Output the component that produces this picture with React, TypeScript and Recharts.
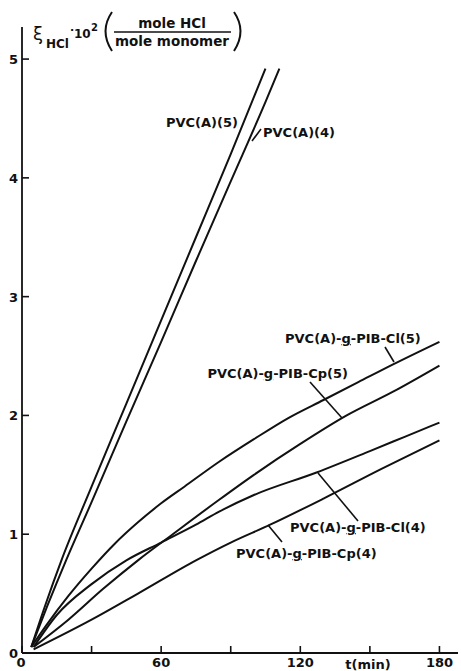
import React from "react";
import { LineChart, Line, XAxis, YAxis } from "recharts";

// time in min, xi_HCl * 10^2
const pvcA5 = [
  { t: 4, v: 0.05 }, { t: 10, v: 0.4 }, { t: 17, v: 0.78 }, { t: 30, v: 1.4 },
  { t: 45, v: 2.1 }, { t: 60, v: 2.8 }, { t: 75, v: 3.5 }, { t: 90, v: 4.2 },
  { t: 105, v: 4.92 },
];
const pvcA4 = [
  { t: 4, v: 0.05 }, { t: 11, v: 0.4 }, { t: 19, v: 0.78 }, { t: 30, v: 1.27 },
  { t: 45, v: 1.95 }, { t: 60, v: 2.62 }, { t: 75, v: 3.3 }, { t: 90, v: 3.97 },
  { t: 105, v: 4.64 }, { t: 111, v: 4.92 },
];
const graftCl5 = [
  { t: 4, v: 0.05 }, { t: 10, v: 0.22 }, { t: 20, v: 0.48 }, { t: 30, v: 0.71 },
  { t: 40, v: 0.92 }, { t: 50, v: 1.1 }, { t: 60, v: 1.26 }, { t: 70, v: 1.4 },
  { t: 85, v: 1.61 }, { t: 100, v: 1.8 }, { t: 115, v: 1.98 }, { t: 130, v: 2.13 },
  { t: 145, v: 2.28 }, { t: 160, v: 2.43 }, { t: 180, v: 2.62 },
];
const graftCp5 = [
  { t: 5, v: 0.05 }, { t: 20, v: 0.28 }, { t: 35, v: 0.54 }, { t: 50, v: 0.78 },
  { t: 65, v: 1.0 }, { t: 85, v: 1.29 }, { t: 100, v: 1.5 }, { t: 120, v: 1.76 },
  { t: 140, v: 2.0 }, { t: 160, v: 2.2 }, { t: 180, v: 2.42 },
];
const graftCl4 = [
  { t: 5, v: 0.05 }, { t: 15, v: 0.32 }, { t: 30, v: 0.58 }, { t: 45, v: 0.78 },
  { t: 60, v: 0.93 }, { t: 75, v: 1.08 }, { t: 85, v: 1.19 }, { t: 100, v: 1.33 },
  { t: 127, v: 1.52 }, { t: 150, v: 1.7 }, { t: 165, v: 1.82 }, { t: 180, v: 1.94 },
];
const graftCp4 = [
  { t: 5, v: 0.03 }, { t: 30, v: 0.28 }, { t: 50, v: 0.5 }, { t: 75, v: 0.78 },
  { t: 90, v: 0.93 }, { t: 107, v: 1.08 }, { t: 130, v: 1.3 }, { t: 155, v: 1.55 },
  { t: 180, v: 1.79 },
];

const xTicks = [0, 30, 60, 90, 120, 150, 180];
const xLabelled = [0, 60, 120, 180];
const yTicks = [0, 1, 2, 3, 4, 5];

const series = [pvcA5, pvcA4, graftCl5, graftCp5, graftCl4, graftCp4];

const font = "'DejaVu Sans', sans-serif";
const ink = "#111";

const YTick = (props: any) => {
  const { x, y, payload } = props;
  return (
    <g>
      <line x1={x} y1={y} x2={x + 7} y2={y} stroke={ink} strokeWidth={1.6} />
      <text x={x - 4} y={y + 5} textAnchor="end" fontFamily={font} fontWeight="bold" fontSize={13} fill={ink}>
        {payload.value}
      </text>
    </g>
  );
};

const XTick = (props: any) => {
  const { x, y, payload } = props;
  const show = xLabelled.includes(payload.value);
  return (
    <g>
      <line x1={x} y1={y} x2={x} y2={y - 7} stroke={ink} strokeWidth={1.6} />
      {show && (
        <text x={payload.value === 0 ? x - 1 : x} y={y + 14} textAnchor="middle" fontFamily={font} fontWeight="bold" fontSize={13} fill={ink}>
          {payload.value}
        </text>
      )}
    </g>
  );
};

const Lbl = ({ x, y, pre, post, anchor = "start" }: any) => (
  <text x={x} y={y} textAnchor={anchor} fontFamily={font} fontWeight="bold" fontSize={13} fill={ink}>
    {pre}
    {post !== undefined && (
      <>
        <tspan style={{ textDecoration: "underline" }}>g</tspan>
        {post}
      </>
    )}
  </text>
);

const Overlay = () => (
  <svg width={461} height={671} style={{ position: "absolute", left: 0, top: 0, pointerEvents: "none" }}>
    {/* axis title */}
    <text x={33} y={40} fontFamily={font} fontSize={18} fill={ink}>ξ</text>
    <text x={46} y={48} fontFamily={font} fontWeight="bold" fontSize={12} fill={ink}>HCl</text>
    <text x={70} y={34} fontFamily={font} fontWeight="bold" fontSize={11} fill={ink}>·</text>
    <text x={74} y={38} fontFamily={font} fontWeight="bold" fontSize={12} fill={ink}>10</text>
    <text x={91} y={31} fontFamily={font} fontWeight="bold" fontSize={10} fill={ink}>2</text>
    <path d="M 112 12 Q 99 31 112 51" stroke={ink} strokeWidth={2} fill="none" />
    <path d="M 234 12 Q 247 31 234 51" stroke={ink} strokeWidth={2} fill="none" />
    <text x={172} y={28} textAnchor="middle" fontFamily={font} fontWeight="bold" fontSize={13.5} fill={ink}>mole HCl</text>
    <line x1={114} y1={32} x2={231} y2={32} stroke={ink} strokeWidth={1.4} />
    <text x={172} y={46} textAnchor="middle" fontFamily={font} fontWeight="bold" fontSize={13.5} fill={ink}>mole monomer</text>
    <text x={368} y={669} textAnchor="middle" fontFamily={font} fontWeight="bold" fontSize={13} fill={ink}>t(min)</text>

    {/* curve labels */}
    <Lbl x={238} y={127} pre="PVC(A)(5)" anchor="end" />
    <Lbl x={263} y={137} pre="PVC(A)(4)" />
    <line x1={252} y1={141} x2={261} y2={129} stroke={ink} strokeWidth={1.6} />
    <Lbl x={285} y={343} pre="PVC(A)-" post="-PIB-Cl(5)" />
    <line x1={385} y1={347} x2={394} y2={362} stroke={ink} strokeWidth={1.6} />
    <Lbl x={348} y={378} pre="PVC(A)-" post="-PIB-Cp(5)" anchor="end" />
    <line x1={310} y1={382} x2={342} y2={418} stroke={ink} strokeWidth={1.6} />
    <Lbl x={290} y={532} pre="PVC(A)-" post="-PIB-Cl(4)" />
    <line x1={318} y1={473} x2={358} y2={521} stroke={ink} strokeWidth={1.6} />
    <Lbl x={236} y={558} pre="PVC(A)-" post="-PIB-Cp(4)" />
    <line x1={268} y1={525} x2={282} y2={542} stroke={ink} strokeWidth={1.6} />
  </svg>
);

export default function App() {
  return (
    <div style={{ position: "absolute", left: 0, top: 0, width: 461, height: 671, background: "#fff" }}>
      <LineChart width={461} height={671} margin={{ top: 27, right: 3, bottom: 17, left: 21 }}>
        <XAxis
          type="number"
          dataKey="t"
          domain={[0, 188]}
          ticks={xTicks}
          height={1}
          tickSize={0}
          tickMargin={0}
          tickLine={false}
          tick={<XTick />}
          axisLine={{ stroke: ink, strokeWidth: 1.8 }}
          allowDataOverflow
        />
        <YAxis
          type="number"
          domain={[0, 5.27]}
          ticks={yTicks}
          width={1}
          tickSize={0}
          tickMargin={0}
          tickLine={false}
          tick={<YTick />}
          axisLine={{ stroke: ink, strokeWidth: 1.8 }}
          allowDataOverflow
        />
        {series.map((d, i) => (
          <Line
            key={i}
            data={d}
            dataKey="v"
            type="monotone"
            stroke={ink}
            strokeWidth={2}
            dot={false}
            isAnimationActive={false}
          />
        ))}
      </LineChart>
      <Overlay />
    </div>
  );
}
